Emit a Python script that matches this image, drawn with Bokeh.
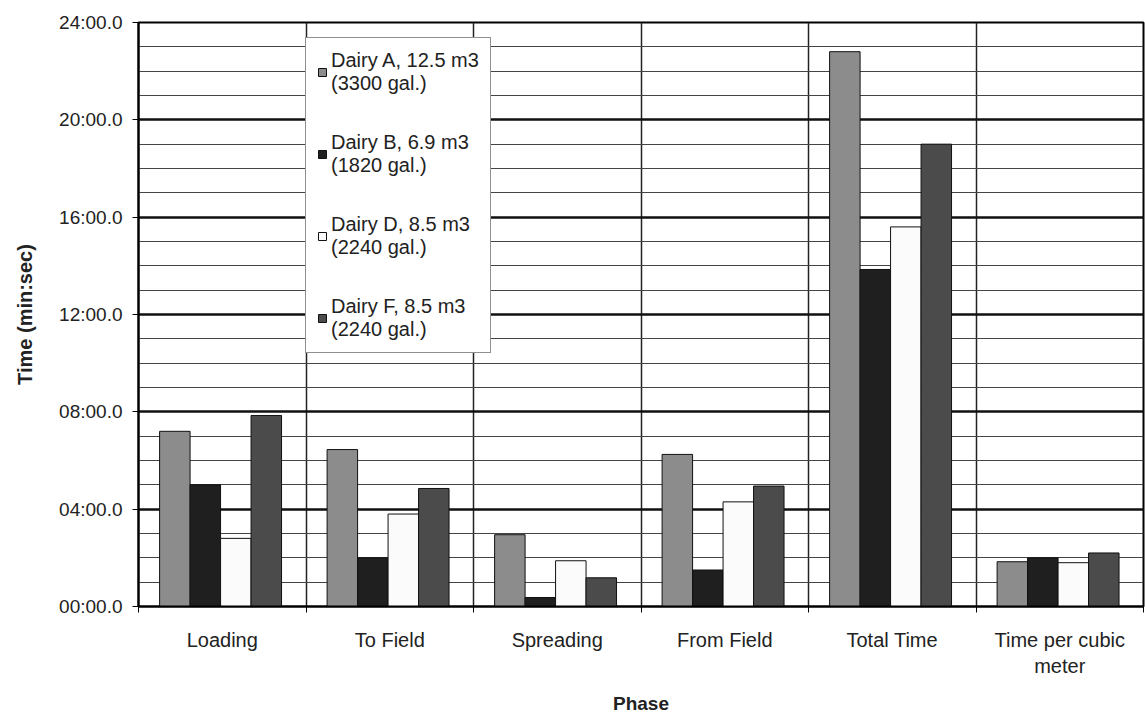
from bokeh.plotting import figure
from bokeh.models import ColumnDataSource, FixedTicker, Range1d, Legend, LegendItem
from bokeh.embed import file_html
from bokeh.resources import INLINE

# Phases of a manure-hauling cycle (x categories)
phases = ["Loading", "To Field", "Spreading", "From Field", "Total Time",
          "Time per cubic\nmeter"]

# Durations in minutes (decimal) for each dairy
dairy_a = [7.2, 6.45, 2.95, 6.25, 22.8, 1.84]
dairy_b = [5.0, 2.0, 0.37, 1.5, 13.85, 2.0]
dairy_d = [2.8, 3.8, 1.88, 4.3, 15.6, 1.8]
dairy_f = [7.85, 4.85, 1.18, 4.95, 19.0, 2.2]

series_labels = [
    "Dairy A, 12.5 m3\n(3300 gal.)",
    "Dairy B, 6.9 m3\n(1820 gal.)",
    "Dairy D, 8.5 m3\n(2240 gal.)",
    "Dairy F, 8.5 m3\n(2240 gal.)",
]
series_values = [dairy_a, dairy_b, dairy_d, dairy_f]
series_colors = ["#8c8c8c", "#1f1f1f", "#fbfbfb", "#4b4b4b"]

y_ticks = [0, 4, 8, 12, 16, 20, 24]
y_tick_labels = ["00:00.0", "04:00.0", "08:00.0", "12:00.0", "16:00.0",
                 "20:00.0", "24:00.0"]

FONT = "Liberation Sans"
TEXT = "#222222"

p = figure(width=1145, height=716, output_backend="svg", toolbar_location=None,
           x_range=Range1d(0, len(phases)), y_range=Range1d(0, 24),
           min_border_left=138, min_border_right=2, min_border_top=22,
           min_border_bottom=109)
p.background_fill_color = "white"
p.border_fill_color = "white"
p.outline_line_color = "black"
p.outline_line_width = 2

centers = [i + 0.5 for i in range(len(phases))]
bar_w = 0.182
offsets = [-0.283 + k * bar_w for k in range(4)]

items = []
for vals, lab, col, off in zip(series_values, series_labels, series_colors, offsets):
    src = ColumnDataSource(dict(x=[c + off for c in centers], top=vals))
    r = p.vbar(x="x", top="top", bottom=0, width=bar_w, source=src,
               fill_color=col, line_color="#111111", line_width=1)
    items.append(LegendItem(label=lab, renderers=[r]))

# y axis: minutes formatted as mm:ss.0
p.yaxis.ticker = FixedTicker(ticks=y_ticks, minor_ticks=list(range(0, 25)))
p.yaxis.major_label_overrides = {t: s for t, s in zip(y_ticks, y_tick_labels)}
p.yaxis.axis_label = "Time (min:sec)"
p.yaxis.axis_label_text_font = FONT
p.yaxis.axis_label_text_font_style = "bold"
p.yaxis.axis_label_text_font_size = "20px"
p.yaxis.axis_label_text_color = TEXT
p.yaxis.axis_label_standoff = 20
p.yaxis.major_label_text_font = FONT
p.yaxis.major_label_text_font_size = "19px"
p.yaxis.major_label_text_color = TEXT
p.yaxis.major_label_standoff = 10
p.yaxis.major_tick_out = 6
p.yaxis.major_tick_in = 0
p.yaxis.minor_tick_out = 0
p.yaxis.minor_tick_in = 0
p.yaxis.axis_line_color = "black"
p.yaxis.axis_line_width = 2

# x axis: phase names centred in each slot, ticks on slot boundaries
p.xaxis.ticker = FixedTicker(ticks=centers, minor_ticks=list(range(0, len(phases) + 1)))
p.xaxis.major_label_overrides = {c: s for c, s in zip(centers, phases)}
p.xaxis.axis_label = "Phase"
p.xaxis.axis_label_text_font = FONT
p.xaxis.axis_label_text_font_style = "bold"
p.xaxis.axis_label_text_font_size = "19px"
p.xaxis.axis_label_text_color = TEXT
p.xaxis.axis_label_standoff = 13
p.xaxis.major_label_text_font = FONT
p.xaxis.major_label_text_font_size = "20px"
p.xaxis.major_label_text_color = TEXT
p.xaxis.major_label_standoff = 16
p.xaxis.major_tick_out = 0
p.xaxis.major_tick_in = 0
p.xaxis.minor_tick_out = 6
p.xaxis.minor_tick_in = 0
p.xaxis.axis_line_color = "black"
p.xaxis.axis_line_width = 2

# grid: heavy lines every 4 minutes, light lines every minute
p.ygrid.ticker = FixedTicker(ticks=y_ticks, minor_ticks=list(range(0, 25)))
p.ygrid.grid_line_color = "#111111"
p.ygrid.grid_line_width = 2.5
p.ygrid.minor_grid_line_color = "#444444"
p.ygrid.minor_grid_line_width = 1.2
p.xgrid.ticker = FixedTicker(ticks=list(range(1, len(phases))))
p.xgrid.grid_line_color = "#222222"
p.xgrid.grid_line_width = 1.5
p.grid.level = "underlay"

legend = Legend(items=items, location=(167, 253))
legend.label_text_font = FONT
legend.label_text_font_size = "20px"
legend.label_text_color = TEXT
legend.label_text_line_height = 1.1
legend.glyph_width = 10
legend.glyph_height = 10
legend.label_standoff = 4
legend.spacing = 36
legend.padding = 11
legend.margin = 0
legend.border_line_color = "#222222"
legend.border_line_width = 1
legend.background_fill_color = "white"
legend.background_fill_alpha = 1
p.add_layout(legend)

open("out.html", "w").write(file_html(p, INLINE))
